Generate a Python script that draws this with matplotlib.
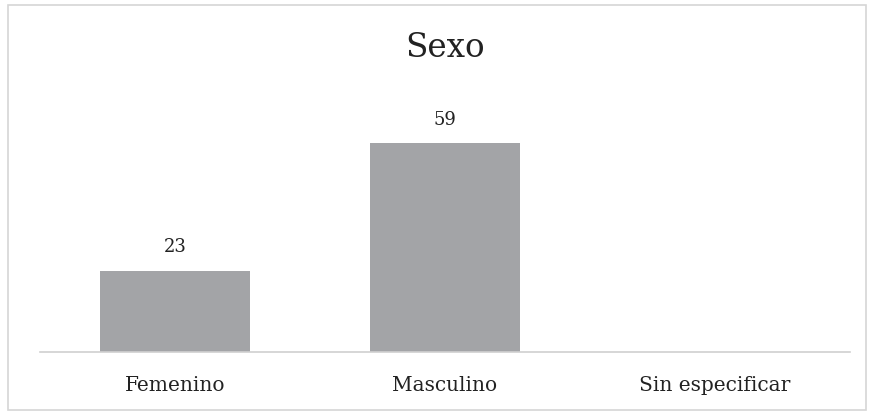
import matplotlib
matplotlib.use('Agg')
import matplotlib.pyplot as plt
from matplotlib.patches import Rectangle

# datos del grafico
categorias = ['Femenino', 'Masculino', 'Sin especificar']
valores = [23, 59, 0]
titulo = 'Sexo'

plt.rcParams['font.family'] = ['DejaVu Serif']

W, H = 872, 417
fig = plt.figure(figsize=(W / 100, H / 100), dpi=100)

# marco gris alrededor del grafico
fig.patches.append(Rectangle((8 / W, 1 - 410 / H), (866 - 8) / W, (410 - 5) / H,
                             transform=fig.transFigure, fill=False,
                             edgecolor='#d6d6d6', linewidth=1.2))

ax = fig.add_axes([40 / W, 1 - 352 / H, 810 / W, (352 - 104) / H])
x = range(len(categorias))
bars = ax.bar(x, valores, width=0.555, color='#a3a4a7')
ax.set_xlim(-0.5, len(categorias) - 0.5)
ax.set_ylim(0, 70)

for b, v in zip(bars, valores):
    if v > 0:
        ax.text(b.get_x() + b.get_width() / 2, v + 4.0, str(v),
                ha='center', va='bottom', fontsize=13, color='#222222')

ax.set_xticks(list(x))
ax.set_xticklabels(categorias, fontsize=14.5, color='#222222')
ax.tick_params(axis='x', length=0, pad=17)
ax.set_yticks([])
for s in ['top', 'left', 'right']:
    ax.spines[s].set_visible(False)
ax.spines['bottom'].set_color('#d0d0d0')
ax.spines['bottom'].set_linewidth(1.2)

fig.text(445 / W, 1 - 48 / H, titulo, ha='center', va='center', fontsize=23.5, color='#222222')

fig.savefig('out.png', dpi=100)
